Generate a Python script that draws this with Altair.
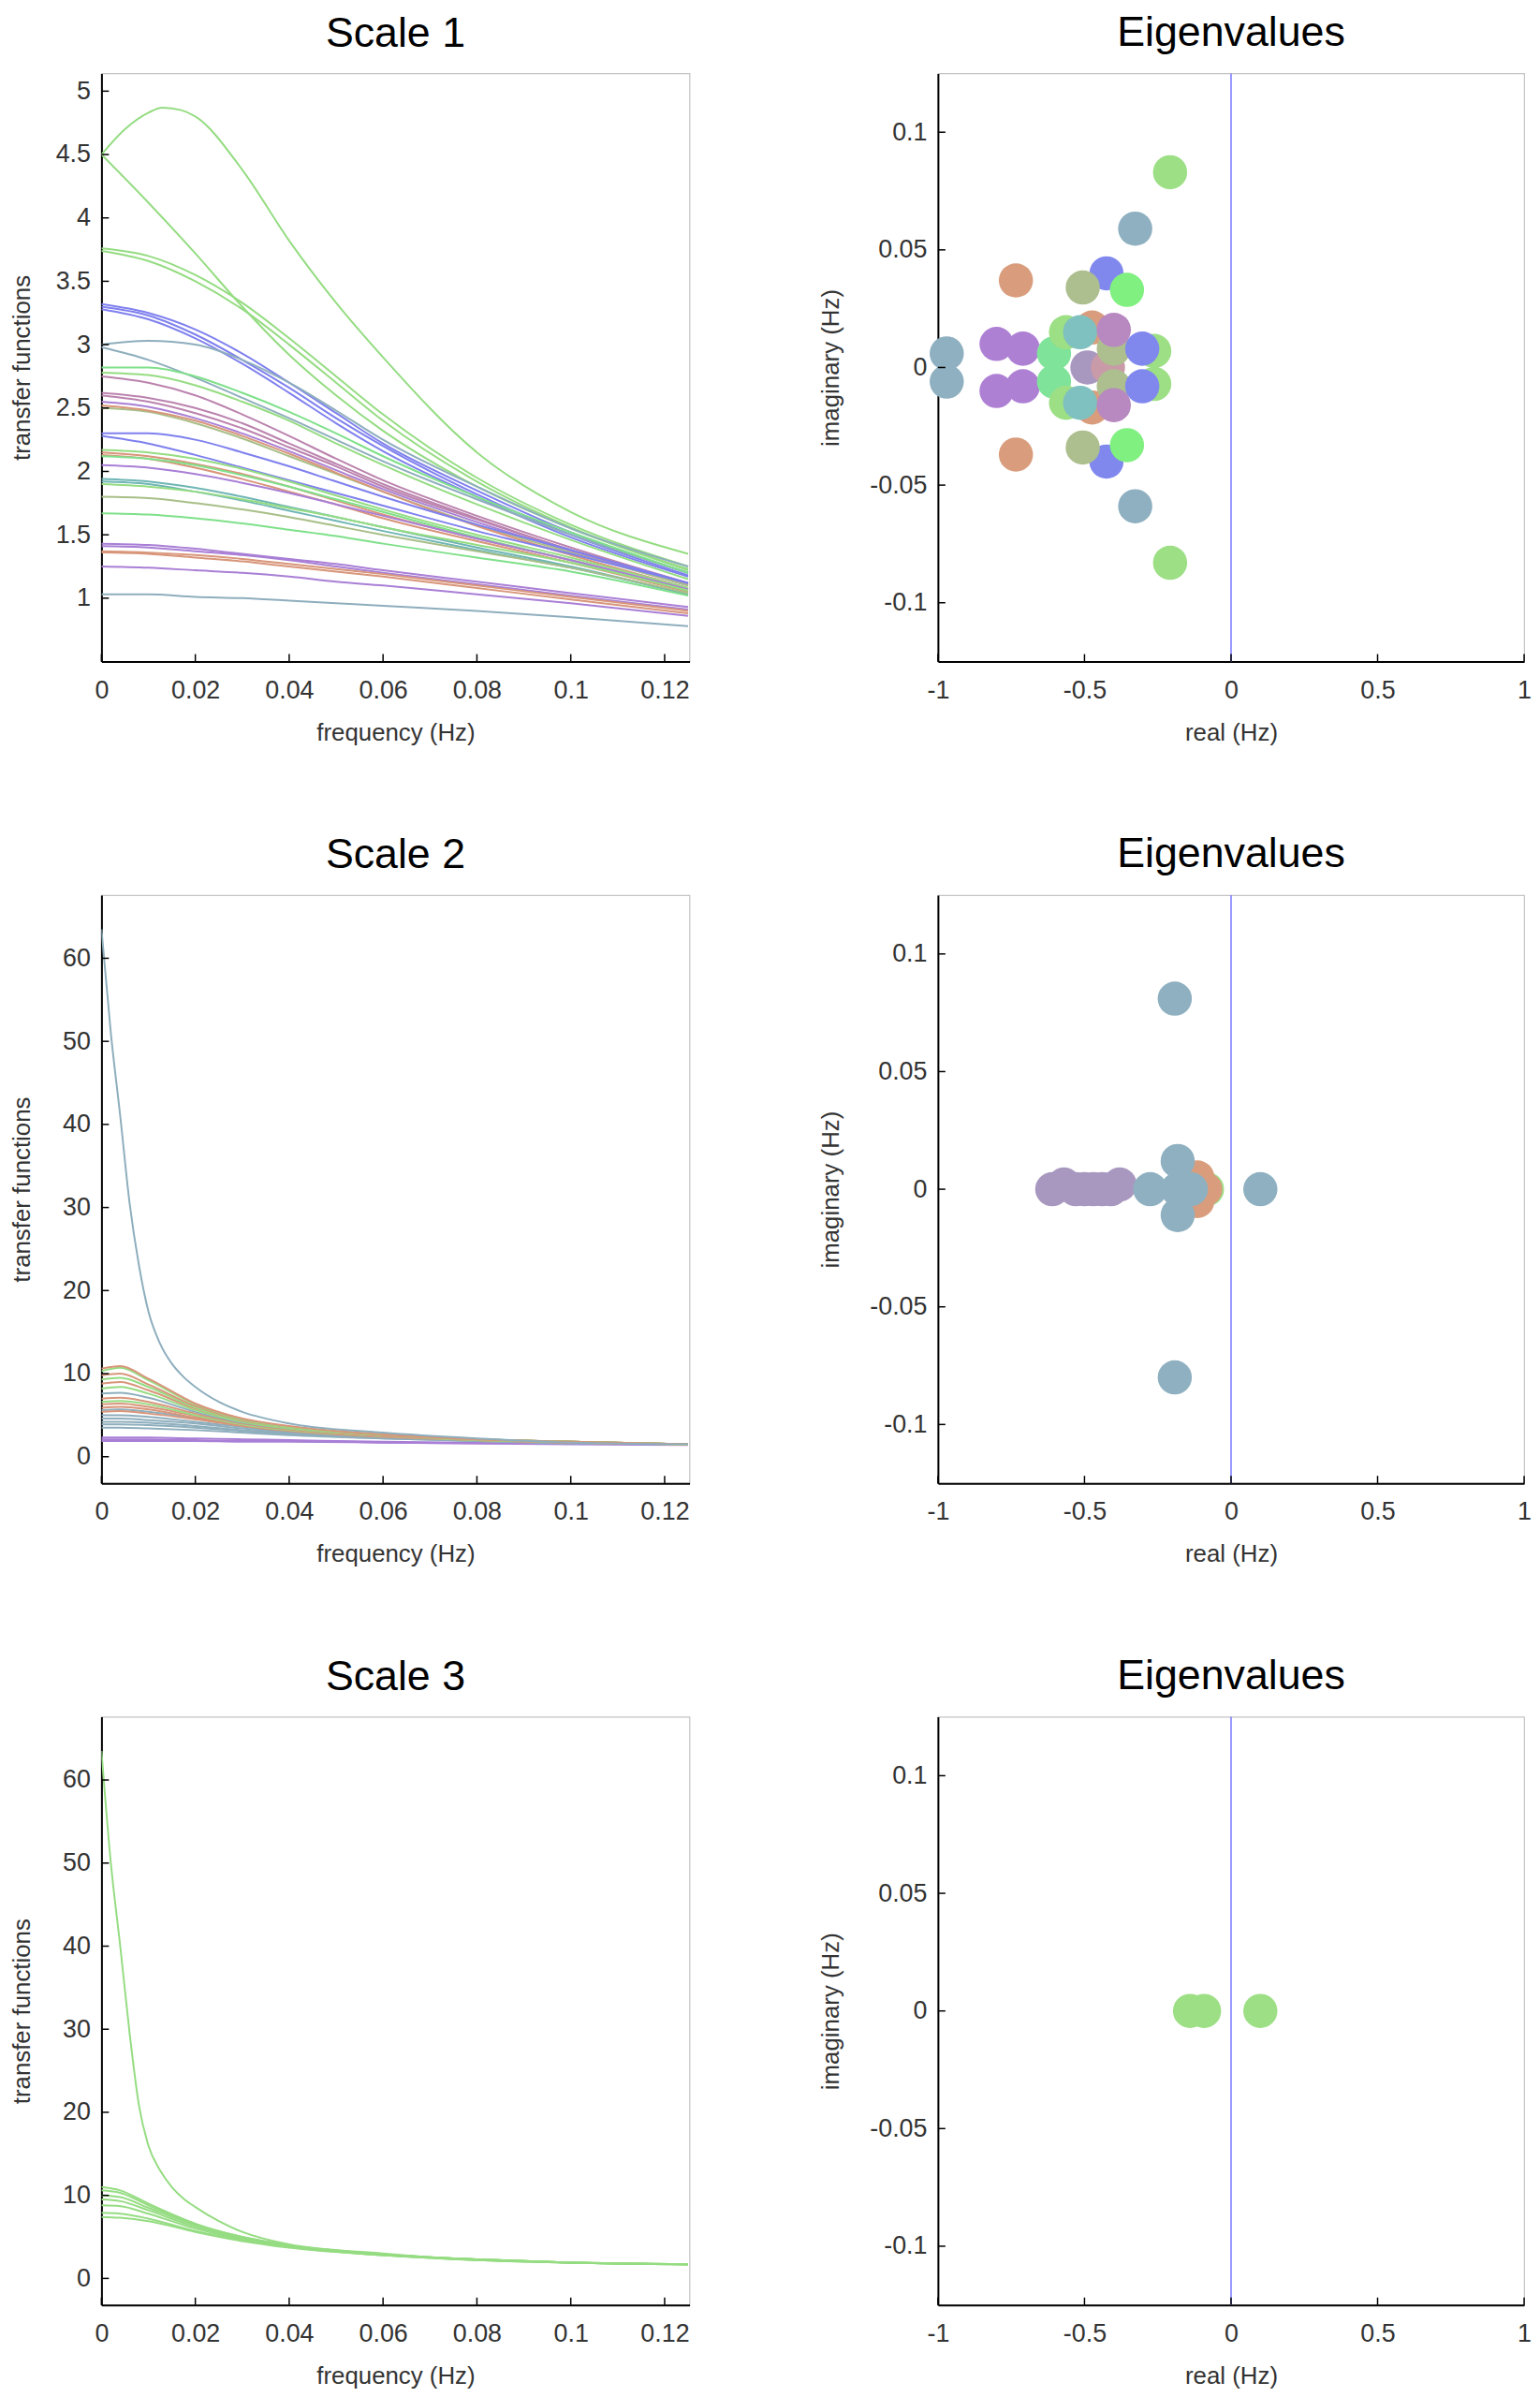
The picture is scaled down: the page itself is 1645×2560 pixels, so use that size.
import altair as alt
import pandas as pd

# ---------------- data ----------------
FREQ = [0, 0.01, 0.02, 0.03, 0.04, 0.05, 0.06, 0.08, 0.1, 0.125]
FREQ_PEAK = [0, 0.005, 0.01, 0.013, 0.017, 0.02, 0.03, 0.04, 0.05, 0.06, 0.08, 0.1, 0.125]
FREQ_S23 = [0, 0.004, 0.01, 0.02, 0.03, 0.04, 0.06, 0.08, 0.1, 0.125]
FREQ_DENSE = [0, 0.002, 0.004, 0.006, 0.008, 0.01, 0.0125, 0.015, 0.0175, 0.02,
              0.025, 0.03, 0.04, 0.06, 0.08, 0.1, 0.125]

X_TICKS = [0, 0.02, 0.04, 0.06, 0.08, 0.1, 0.12]
Y1_TICKS = [1, 1.5, 2, 2.5, 3, 3.5, 4, 4.5, 5]
Y23_TICKS = [0, 10, 20, 30, 40, 50, 60]
RE_TICKS = [-1, -0.5, 0, 0.5, 1]
IM_TICKS = [-0.1, -0.05, 0, 0.05, 0.1]

GREEN = "#95dc82"
BGREEN = "#7fe08a"
BLUE = "#7f80ee"
PURPLE = "#a97fd6"
ORANGE = "#d8957a"
GREYBLUE = "#8eaebd"
MAUVE = "#bb83ae"
OLIVE = "#a8bf88"
TEAL = "#6fb5b5"

# Scale 1 transfer functions
S1_PEAK_COLOR = GREEN
S1_PEAK = [4.50, 4.70, 4.83, 4.87, 4.85, 4.80, 4.38, 3.82, 3.33, 2.90, 2.15, 1.68, 1.35]

S1_COLORS = [
    GREEN, GREEN, GREEN, BLUE, BLUE, BLUE, GREYBLUE, GREYBLUE,
    BGREEN, GREEN, MAUVE, MAUVE, MAUVE, PURPLE, OLIVE, ORANGE, BLUE, BLUE,
    GREEN, ORANGE, ORANGE, BGREEN, PURPLE, TEAL, TEAL, GREEN, OLIVE, BGREEN,
    PURPLE, PURPLE, ORANGE, ORANGE, PURPLE, GREYBLUE,
]
S1_VALUES = [
    [4.50, 4.12, 3.72, 3.30, 2.92, 2.60, 2.32, 1.88, 1.55, 1.22],
    [3.76, 3.70, 3.55, 3.33, 3.05, 2.75, 2.45, 1.95, 1.58, 1.25],
    [3.74, 3.66, 3.50, 3.28, 3.00, 2.70, 2.40, 1.92, 1.56, 1.23],
    [3.32, 3.25, 3.12, 2.93, 2.70, 2.46, 2.22, 1.85, 1.52, 1.20],
    [3.30, 3.23, 3.08, 2.88, 2.66, 2.42, 2.20, 1.82, 1.50, 1.18],
    [3.28, 3.20, 3.05, 2.85, 2.62, 2.38, 2.16, 1.80, 1.48, 1.17],
    [3.00, 3.03, 3.00, 2.88, 2.70, 2.48, 2.25, 1.88, 1.55, 1.25],
    [2.98, 2.88, 2.74, 2.58, 2.42, 2.25, 2.08, 1.78, 1.50, 1.20],
    [2.82, 2.82, 2.75, 2.62, 2.47, 2.30, 2.12, 1.80, 1.52, 1.20],
    [2.78, 2.76, 2.68, 2.55, 2.40, 2.22, 2.05, 1.74, 1.46, 1.15],
    [2.75, 2.70, 2.60, 2.45, 2.28, 2.10, 1.93, 1.65, 1.40, 1.12],
    [2.62, 2.58, 2.50, 2.38, 2.22, 2.06, 1.90, 1.63, 1.38, 1.11],
    [2.60, 2.55, 2.46, 2.34, 2.19, 2.04, 1.88, 1.62, 1.38, 1.12],
    [2.55, 2.51, 2.42, 2.30, 2.16, 2.01, 1.86, 1.60, 1.37, 1.10],
    [2.50, 2.47, 2.38, 2.26, 2.12, 1.98, 1.84, 1.58, 1.36, 1.10],
    [2.52, 2.48, 2.40, 2.28, 2.14, 1.99, 1.84, 1.57, 1.34, 1.08],
    [2.30, 2.30, 2.25, 2.15, 2.04, 1.92, 1.80, 1.58, 1.38, 1.12],
    [2.28, 2.22, 2.13, 2.03, 1.93, 1.83, 1.73, 1.53, 1.35, 1.12],
    [2.17, 2.15, 2.10, 2.02, 1.92, 1.81, 1.70, 1.50, 1.32, 1.08],
    [2.15, 2.12, 2.06, 1.98, 1.88, 1.77, 1.66, 1.47, 1.30, 1.06],
    [2.13, 2.10, 2.03, 1.94, 1.84, 1.74, 1.63, 1.45, 1.28, 1.05],
    [2.12, 2.10, 2.05, 1.97, 1.88, 1.78, 1.68, 1.48, 1.30, 1.06],
    [2.05, 2.03, 1.98, 1.91, 1.83, 1.74, 1.65, 1.47, 1.30, 1.07],
    [1.94, 1.92, 1.87, 1.80, 1.72, 1.64, 1.56, 1.40, 1.25, 1.03],
    [1.92, 1.90, 1.84, 1.77, 1.69, 1.61, 1.53, 1.38, 1.24, 1.03],
    [1.90, 1.88, 1.84, 1.78, 1.71, 1.64, 1.56, 1.42, 1.28, 1.06],
    [1.80, 1.79, 1.75, 1.70, 1.64, 1.57, 1.50, 1.37, 1.24, 1.04],
    [1.67, 1.66, 1.63, 1.59, 1.54, 1.49, 1.43, 1.32, 1.21, 1.02],
    [1.43, 1.42, 1.39, 1.35, 1.31, 1.27, 1.22, 1.13, 1.04, 0.93],
    [1.41, 1.40, 1.37, 1.34, 1.30, 1.25, 1.20, 1.11, 1.02, 0.91],
    [1.37, 1.36, 1.34, 1.31, 1.27, 1.23, 1.19, 1.10, 1.01, 0.90],
    [1.36, 1.35, 1.32, 1.29, 1.25, 1.21, 1.17, 1.08, 0.99, 0.88],
    [1.25, 1.24, 1.22, 1.20, 1.17, 1.13, 1.10, 1.03, 0.96, 0.86],
    [1.03, 1.03, 1.01, 1.00, 0.98, 0.96, 0.94, 0.90, 0.85, 0.78],
]

# Scale 2 transfer functions
S2_COLORS = [
    PURPLE, PURPLE, PURPLE,
    GREYBLUE, GREYBLUE, GREYBLUE, GREYBLUE, GREYBLUE, GREYBLUE,
    ORANGE, ORANGE, ORANGE, GREEN, ORANGE, GREYBLUE, GREEN, ORANGE, GREEN, ORANGE, GREEN, ORANGE,
]
S2_VALUES = [
    [2.3, 2.3, 2.3, 2.2, 2.1, 2.0, 1.8, 1.7, 1.6, 1.5],
    [2.1, 2.1, 2.1, 2.0, 1.9, 1.9, 1.7, 1.6, 1.6, 1.5],
    [1.9, 1.9, 1.9, 1.9, 1.8, 1.8, 1.7, 1.6, 1.5, 1.4],
    [5.6, 5.7, 5.4, 4.6, 3.7, 3.1, 2.4, 2.0, 1.7, 1.5],
    [5.0, 5.0, 4.8, 4.2, 3.6, 3.0, 2.4, 2.0, 1.7, 1.5],
    [4.6, 4.6, 4.4, 4.0, 3.4, 2.9, 2.3, 2.0, 1.7, 1.5],
    [4.2, 4.2, 4.1, 3.7, 3.2, 2.8, 2.3, 1.9, 1.7, 1.5],
    [3.9, 3.9, 3.8, 3.5, 3.1, 2.7, 2.2, 1.9, 1.7, 1.5],
    [3.5, 3.5, 3.4, 3.2, 2.9, 2.6, 2.2, 1.9, 1.6, 1.5],
    [5.4, 5.5, 5.2, 4.5, 3.7, 3.1, 2.4, 2.0, 1.7, 1.5],
    [5.9, 6.0, 5.7, 4.7, 3.8, 3.2, 2.5, 2.0, 1.7, 1.5],
    [6.3, 6.4, 6.0, 4.9, 3.9, 3.2, 2.5, 2.0, 1.7, 1.5],
    [6.6, 6.7, 6.3, 5.0, 3.9, 3.2, 2.5, 2.0, 1.8, 1.5],
    [7.0, 7.1, 6.6, 5.2, 4.0, 3.3, 2.5, 2.1, 1.8, 1.5],
    [7.6, 7.7, 7.1, 5.4, 4.1, 3.4, 2.6, 2.1, 1.8, 1.5],
    [8.2, 8.4, 7.6, 5.6, 4.2, 3.4, 2.6, 2.1, 1.8, 1.5],
    [8.8, 9.0, 8.0, 5.8, 4.3, 3.5, 2.6, 2.1, 1.8, 1.5],
    [9.3, 9.5, 8.4, 5.9, 4.3, 3.5, 2.6, 2.1, 1.8, 1.5],
    [9.8, 10.0, 8.7, 6.1, 4.4, 3.6, 2.6, 2.1, 1.8, 1.5],
    [10.3, 10.7, 9.2, 6.3, 4.5, 3.6, 2.7, 2.1, 1.8, 1.5],
    [10.6, 10.9, 9.4, 6.4, 4.6, 3.7, 2.7, 2.1, 1.8, 1.5],
]
S2_STEEP_COLOR = GREYBLUE
S2_STEEP = [63.5, 51.0, 41.0, 30.5, 23.0, 17.5, 13.6, 11.2, 9.6, 8.4,
            6.6, 5.4, 4.0, 2.9, 2.2, 1.7, 1.5]

# Scale 3 transfer functions
S3_COLOR = GREEN
S3_VALUES = [
    [11.0, 10.6, 9.0, 6.6, 5.0, 4.0, 2.9, 2.3, 1.9, 1.7],
    [10.6, 10.3, 8.8, 6.5, 5.0, 4.0, 2.9, 2.3, 1.9, 1.7],
    [10.0, 9.8, 8.5, 6.4, 4.9, 4.0, 2.9, 2.3, 1.9, 1.7],
    [9.5, 9.3, 8.2, 6.2, 4.8, 3.9, 2.9, 2.3, 1.9, 1.7],
    [8.8, 8.7, 7.8, 6.0, 4.7, 3.9, 2.8, 2.3, 1.9, 1.7],
    [7.9, 7.8, 7.2, 5.7, 4.6, 3.8, 2.8, 2.2, 1.9, 1.7],
    [7.4, 7.3, 6.9, 5.6, 4.5, 3.7, 2.8, 2.2, 1.9, 1.7],
]
S3_STEEP = [63.5, 50.0, 40.0, 29.5, 20.8, 16.0, 13.0, 11.0, 9.6, 8.6,
            6.9, 5.6, 4.1, 3.0, 2.2, 1.9, 1.7]

# Eigenvalues
EG = "#9ddf85"
EGB = "#8fb0c0"
EOR = "#d99d7d"
EPU = "#ae80d4"
EMINT = "#80e39a"
EBLUE = "#8088ee"
EOLIVE = "#adbf8e"
ETEAL = "#7fc0c0"
EMAUVE = "#b888c0"
EBRIGHT = "#80f080"
EPG = "#a898c0"
EPINK = "#c99aa8"

E1_RE = [-0.970, -0.970, -0.80, -0.80, -0.71, -0.71, -0.734, -0.734,
         -0.604, -0.604, -0.563, -0.563, -0.474, -0.474, -0.49, -0.42,
         -0.40, -0.40, -0.262, -0.262, -0.303, -0.303, -0.515, -0.515,
         -0.40, -0.40, -0.425, -0.425, -0.506, -0.506, -0.355, -0.355,
         -0.327, -0.327, -0.208, -0.208]
E1_IM = [0.006, -0.006, 0.010, -0.010, 0.008, -0.008, 0.037, -0.037,
         0.006, -0.006, 0.015, -0.015, 0.017, -0.017, 0.0, 0.0,
         0.008, -0.008, 0.007, -0.007, 0.008, -0.008, 0.015, -0.015,
         0.016, -0.016, 0.040, -0.040, 0.034, -0.034, 0.033, -0.033,
         0.059, -0.059, 0.083, -0.083]
E1_COL = [EGB, EGB, EPU, EPU, EPU, EPU, EOR, EOR,
          EMINT, EMINT, EG, EG, EOR, EOR, EPG, EPINK,
          EOLIVE, EOLIVE, EG, EG, EBLUE, EBLUE, ETEAL, ETEAL,
          EMAUVE, EMAUVE, EBLUE, EBLUE, EOLIVE, EOLIVE, EBRIGHT, EBRIGHT,
          EGB, EGB, EG, EG]

E2_RE = [-0.61, -0.57, -0.53, -0.50, -0.47, -0.44, -0.41, -0.38,
         -0.082, -0.088, -0.115, -0.115,
         -0.276, -0.182, -0.182, -0.182, -0.137, 0.100, -0.192, -0.192]
E2_IM = [0.0, 0.002, 0.0, 0.0, 0.0, 0.0, 0.0, 0.002,
         0.0, 0.0, 0.005, -0.005,
         0.0, 0.012, -0.011, 0.0, 0.0, 0.0, 0.081, -0.080]
E2_COL = [EPG] * 8 + [EG, EOR, EOR, EOR] + [EGB] * 8

E3_RE = [-0.14, -0.092, 0.100]
E3_IM = [0.0, 0.0, 0.0]
E3_COL = [EG, EG, EG]

# ---------------- helpers ----------------
W = 632
WR = 630
H = 632
FONT = "Liberation Sans"
TITLE_OFFSET = 20


def curves_df(freqs, colors, values, prefix):
    rows = []
    for i, (c, vals) in enumerate(zip(colors, values)):
        for f, v in zip(freqs, vals):
            rows.append({"curve": f"{prefix}{i}", "freq": f, "value": v, "color": c})
    return rows


def panel_title(text):
    return alt.TitleParams(text, fontSize=45, font=FONT, fontWeight="normal",
                           color="black", offset=TITLE_OFFSET, anchor="middle")


def line_panel(title, rows, ydom, yticks):
    df = pd.DataFrame(rows)
    xs = alt.Scale(domain=[0, 0.1253], nice=False, zero=False)
    ys = alt.Scale(domain=ydom, nice=False, zero=False)
    xaxis = alt.Axis(values=X_TICKS, title="frequency (Hz)",
                     labelExpr="toString(datum.value)")
    yaxis = alt.Axis(values=yticks, title="transfer functions",
                     labelExpr="toString(datum.value)", labelPadding=12,
                     minExtent=52, maxExtent=52, titlePadding=20)
    lines = alt.Chart(df).mark_line(strokeWidth=2, interpolate="monotone", clip=True).encode(
        x=alt.X("freq:Q", scale=xs, axis=xaxis),
        y=alt.Y("value:Q", scale=ys, axis=yaxis),
        color=alt.Color("color:N", scale=None),
        detail="curve:N",
    )
    xt = alt.Chart(pd.DataFrame({"freq": X_TICKS})).mark_rule(color="black", strokeWidth=1.5).encode(
        x=alt.X("freq:Q", scale=xs), y=alt.value(H), y2=alt.value(H - 8))
    yt = alt.Chart(pd.DataFrame({"value": yticks})).mark_rule(color="black", strokeWidth=1.5).encode(
        y=alt.Y("value:Q", scale=ys), x=alt.value(0), x2=alt.value(8))
    return alt.layer(lines, xt, yt).properties(width=W, height=H, title=panel_title(title))


def eig_panel(re, im, col):
    df = pd.DataFrame({"re": re, "im": im, "color": col})
    xs = alt.Scale(domain=[-1, 1], nice=False, zero=False)
    ys = alt.Scale(domain=[-0.125, 0.125], nice=False, zero=False)
    xaxis = alt.Axis(values=RE_TICKS, title="real (Hz)", labelExpr="toString(datum.value)")
    yaxis = alt.Axis(values=IM_TICKS, title="imaginary (Hz)",
                     labelExpr="toString(datum.value)", labelPadding=12,
                     minExtent=78, maxExtent=78, titlePadding=24)
    pts = alt.Chart(df).mark_circle(size=1350, opacity=1).encode(
        x=alt.X("re:Q", scale=xs, axis=xaxis),
        y=alt.Y("im:Q", scale=ys, axis=yaxis),
        color=alt.Color("color:N", scale=None),
    )
    zero = alt.Chart(pd.DataFrame({"re": [0]})).mark_rule(color="#7f7fff", strokeWidth=1.6).encode(
        x=alt.X("re:Q", scale=xs))
    xt = alt.Chart(pd.DataFrame({"re": RE_TICKS})).mark_rule(color="black", strokeWidth=1.5).encode(
        x=alt.X("re:Q", scale=xs), y=alt.value(H), y2=alt.value(H - 8))
    yt = alt.Chart(pd.DataFrame({"im": IM_TICKS})).mark_rule(color="black", strokeWidth=1.5).encode(
        y=alt.Y("im:Q", scale=ys), x=alt.value(0), x2=alt.value(8))
    return alt.layer(pts, zero, xt, yt).properties(width=WR, height=H, title=panel_title("Eigenvalues"))


s1_rows = curves_df(FREQ_PEAK, [S1_PEAK_COLOR], [S1_PEAK], "p") + \
    curves_df(FREQ, S1_COLORS, S1_VALUES, "a")
s2_rows = curves_df(FREQ_S23, S2_COLORS, S2_VALUES, "b") + \
    curves_df(FREQ_DENSE, [S2_STEEP_COLOR], [S2_STEEP], "bs")
s3_rows = curves_df(FREQ_S23, [S3_COLOR] * len(S3_VALUES), S3_VALUES, "c") + \
    curves_df(FREQ_DENSE, [S3_COLOR], [S3_STEEP], "cs")

HSPACE = 137
row1 = alt.hconcat(line_panel("Scale 1", s1_rows, [0.5, 5.14], Y1_TICKS),
                   eig_panel(E1_RE, E1_IM, E1_COL), spacing=HSPACE)
row2 = alt.hconcat(line_panel("Scale 2", s2_rows, [-3.2, 67.6], Y23_TICKS),
                   eig_panel(E2_RE, E2_IM, E2_COL), spacing=HSPACE)
row3 = alt.hconcat(line_panel("Scale 3", s3_rows, [-3.2, 67.6], Y23_TICKS),
                   eig_panel(E3_RE, E3_IM, E3_COL), spacing=HSPACE)

chart = alt.vconcat(row1, row2, row3, spacing=94).properties(
    padding={"left": 2, "top": -4, "right": 0, "bottom": 0}
).configure_view(
    stroke="#c4c4c4", strokeWidth=1.2
).configure_axis(
    labelFont=FONT, labelFontSize=27, labelColor="#333333",
    titleFont=FONT, titleFontSize=26, titleFontWeight="normal", titleColor="#333333",
    domainColor="black", domainWidth=2, ticks=False, grid=False,
    labelFlush=False, labelOverlap=False,
).configure_axisX(labelPadding=18, titlePadding=19)

chart.save("out.html", embed_options={"renderer": "svg", "actions": False})
